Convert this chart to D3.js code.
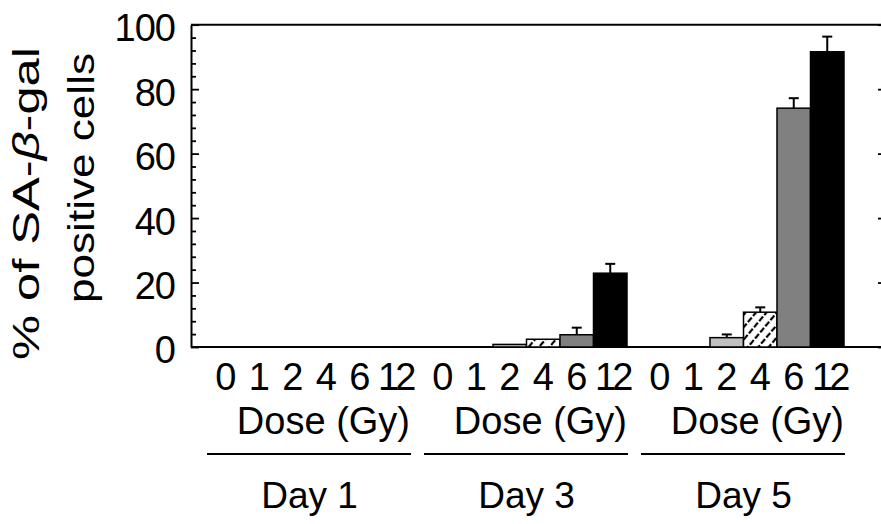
<!DOCTYPE html>
<html>
<head>
<meta charset="utf-8">
<script src="https://cdn.jsdelivr.net/npm/d3@7"></script>
<style>
  body { margin: 0; background: #fff; }
  svg { display: block; }
  text { font-family: "Liberation Sans", Arial, sans-serif; fill: #000; }
</style>
</head>
<body>
<div id="chart"></div>
<script>
// values (% of SA-beta-gal positive cells)
const days = ["Day 1", "Day 3", "Day 5"]
const doses = ["0", "1", "2", "4", "6", "12"]
const meanDay1 = [0, 0, 0, 0, 0, 0]
const meanDay3 = [0, 0, 0.8, 2.4, 3.8, 22.9]
const meanDay5 = [0, 0, 2.9, 10.8, 74.1, 91.6]
const errDay1 = [0, 0, 0, 0, 0, 0]
const errDay3 = [0, 0, 0, 0, 2.2, 2.9]
const errDay5 = [0, 0, 1.0, 1.5, 3.1, 4.7]
const yMajor = [0, 20, 40, 60, 80, 100]

const width = 881, height = 524

const svg = d3.select("#chart").append("svg")
    .attr("viewBox", [0, 0, width, height])
    .attr("width", width)
    .attr("height", height)

// hatch for the 4 Gy bars
const defs = svg.append("defs")
const hatch = defs.append("pattern")
    .attr("id", "hatch")
    .attr("patternUnits", "userSpaceOnUse")
    .attr("width", 8).attr("height", 8)
    .attr("patternTransform", "rotate(40)")
hatch.append("rect").attr("width", 8).attr("height", 8).attr("fill", "#fff")
hatch.append("line")
    .attr("x1", 4).attr("x2", 4).attr("y1", 0).attr("y2", 8)
    .attr("stroke", "#000").attr("stroke-width", 2.2)
    .attr("stroke-dasharray", "6 2")

const doseFill = {"0": "#fff", "1": "#fff", "2": "#c0c0c0", "4": "url(#hatch)", "6": "#808080", "12": "#000"}

//scales
const y = d3.scaleLinear().domain([0, 100]).range([347, 24.7])
const xDay = d3.scaleBand().domain(days).range([209, 844]).paddingInner(16 / 217)
const xDose = d3.scaleBand().domain(doses).range([0, xDay.bandwidth()])

const leftX = 191, rightX = 886

//frame lines top and bottom
svg.append("line")
    .attr("x1", leftX).attr("x2", rightX)
    .attr("y1", y(100)).attr("y2", y(100))
    .attr("stroke", "#000").attr("stroke-width", 2)
svg.append("line")
    .attr("x1", leftX).attr("x2", rightX)
    .attr("y1", y(0)).attr("y2", y(0))
    .attr("stroke", "#000").attr("stroke-width", 2)

//bars
const groups = [
    {day: "Day 1", mean: meanDay1, err: errDay1},
    {day: "Day 3", mean: meanDay3, err: errDay3},
    {day: "Day 5", mean: meanDay5, err: errDay5}
]
const bars = []
groups.forEach(g => {
    doses.forEach((d, i) => {
        bars.push({day: g.day, dose: d, value: g.mean[i], err: g.err[i]})
    })
})
const shown = bars.filter(b => b.value > 0)
const barX = b => xDay(b.day) + xDose(b.dose)

svg.append("g").selectAll("rect")
    .data(shown)
    .join("rect")
    .attr("x", barX)
    .attr("y", b => y(b.value))
    .attr("width", xDose.bandwidth())
    .attr("height", b => y(0) - y(b.value))
    .attr("fill", b => doseFill[b.dose])
    .attr("stroke", "#000")
    .attr("stroke-width", 1.5)

//error bars, upper only
const errG = svg.append("g").attr("stroke", "#000").attr("stroke-width", 2)
shown.filter(b => b.err > 0).forEach(b => {
    const cx = barX(b) + xDose.bandwidth() / 2
    errG.append("line")
        .attr("x1", cx).attr("x2", cx)
        .attr("y1", y(b.value)).attr("y2", y(b.value + b.err))
    errG.append("line")
        .attr("x1", cx - 5).attr("x2", cx + 5)
        .attr("y1", y(b.value + b.err)).attr("y2", y(b.value + b.err))
})

//y axes, ticks point inside
const minor = d3.range(0, 101, 4).filter(v => v % 20 !== 0)
const styleAxis = g => {
    g.select(".domain").attr("stroke-width", 2)
    g.selectAll(".tick line").attr("stroke-width", 1.8)
}
svg.append("g")
    .attr("transform", `translate(${leftX},0)`)
    .call(d3.axisLeft(y).tickValues(minor).tickSizeInner(-5).tickSizeOuter(0).tickFormat(""))
    .call(g => g.select(".domain").remove())
    .call(styleAxis)
svg.append("g")
    .attr("transform", `translate(${leftX},0)`)
    .call(d3.axisLeft(y).tickValues(yMajor).tickSizeInner(-8).tickSizeOuter(0).tickPadding(16))
    .call(styleAxis)
    .call(g => g.selectAll(".tick text")
        .attr("font-size", "38px")
        .attr("font-family", "Liberation Sans, Arial, sans-serif")
        .attr("letter-spacing", "-1px")
        .attr("dy", "0.42em"))
svg.append("g")
    .attr("transform", `translate(${rightX},0)`)
    .call(d3.axisRight(y).tickValues(yMajor).tickSizeInner(-8).tickSizeOuter(0).tickFormat(""))
    .call(styleAxis)

//y title
const t1 = svg.append("text")
    .attr("transform", "translate(39,203.5) rotate(-90)")
    .attr("text-anchor", "middle")
    .attr("font-size", "37px")
    .attr("textLength", 313)
    .attr("lengthAdjust", "spacingAndGlyphs")
t1.append("tspan").text("% of SA-")
t1.append("tspan").attr("font-style", "italic").text("β")
t1.append("tspan").text("-gal")

svg.append("text")
    .attr("transform", "translate(94,178) rotate(-90)")
    .attr("text-anchor", "middle")
    .attr("font-size", "37px")
    .attr("textLength", 250)
    .attr("lengthAdjust", "spacingAndGlyphs")
    .text("positive cells")

//x labels per group
days.forEach(day => {
    const gx = xDay(day)
    const g = svg.append("g").attr("transform", `translate(${gx},0)`)
    g.selectAll(".dose")
        .data(doses)
        .join("text")
        .attr("class", "dose")
        .attr("x", d => xDose(d) + xDose.bandwidth() / 2)
        .attr("y", 390)
        .attr("text-anchor", "middle")
        .attr("font-size", "38px")
        .attr("letter-spacing", d => d.length > 1 ? "-4px" : null)
        .attr("dx", d => d.length > 1 ? 2 : 0)
        .text(d => d)
    g.append("text")
        .attr("x", xDay.bandwidth())
        .attr("y", 434)
        .attr("text-anchor", "end")
        .attr("font-size", "38px")
        .text("Dose (Gy)")
    g.append("line")
        .attr("x1", -2).attr("x2", xDay.bandwidth() + 1)
        .attr("y1", 454).attr("y2", 454)
        .attr("stroke", "#000").attr("stroke-width", 2)
    g.append("text")
        .attr("x", xDay.bandwidth() / 2)
        .attr("y", 508)
        .attr("text-anchor", "middle")
        .attr("font-size", "37px")
        .text(day)
})
</script>
</body>
</html>
